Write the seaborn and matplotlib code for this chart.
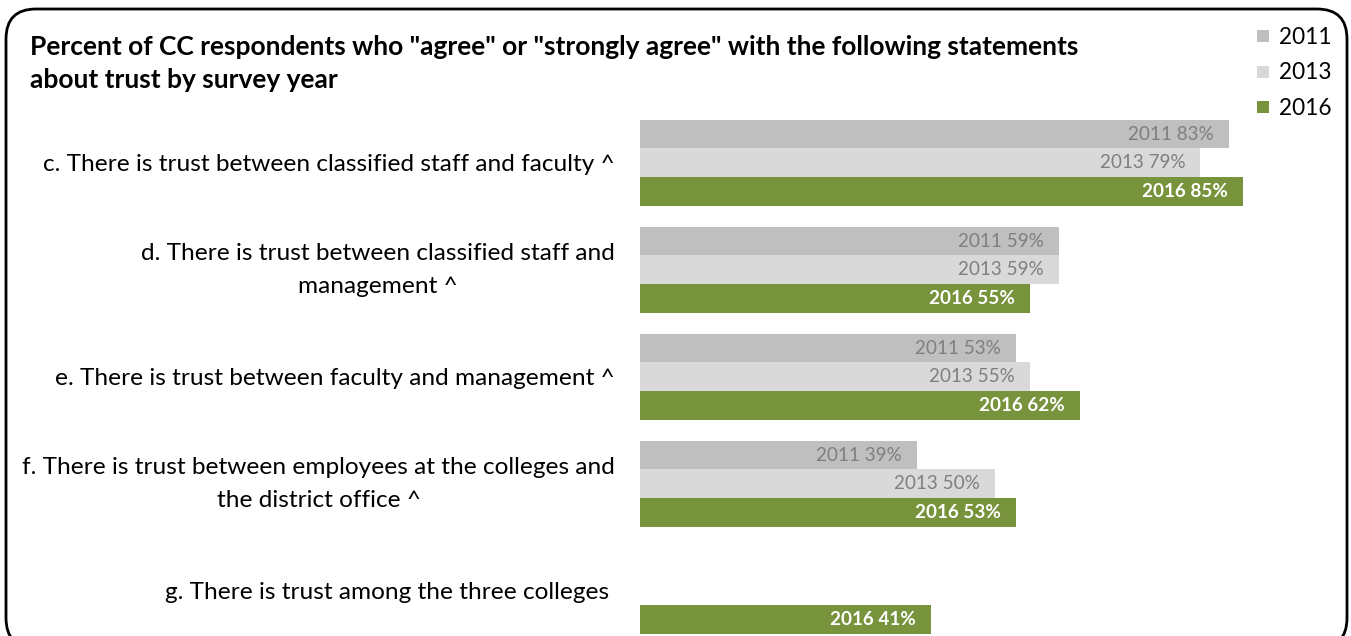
import numpy as np
import pandas as pd
import matplotlib.pyplot as plt
import seaborn as sns
from matplotlib.patches import FancyBboxPatch
from matplotlib.lines import Line2D
from matplotlib.transforms import IdentityTransform

# Survey items (labels as shown, wrapped)
items = [
    'c. There is trust between classified staff and faculty ^',
    'd. There is trust between classified staff and\nmanagement ^',
    'e. There is trust between faculty and management ^',
    'f. There is trust between employees at the colleges and\nthe district office ^',
    'g. There is trust among the three colleges ',
]
years = ['2011', '2013', '2016']
pct_2011 = [83, 59, 53, 39, np.nan]
pct_2013 = [79, 59, 55, 50, np.nan]
pct_2016 = [85, 55, 62, 53, 41]

colors = {'2011': '#bfbfbf', '2013': '#d9d9d9', '2016': '#77933c'}
font = ['Lato', 'DejaVu Sans']

rows = []
for yr, vals in zip(years, [pct_2011, pct_2013, pct_2016]):
    for item, v in zip(items, vals):
        rows.append({'item': item, 'year': yr, 'pct': v})
df = pd.DataFrame(rows)

sns.set_style('white')
plt.rcParams['font.family'] = font
plt.rcParams['text.color'] = 'black'

W, H = 1351, 636
fig = plt.figure(figsize=(W / 100, H / 100), dpi=100)
ax = fig.add_axes([640 / W, 0, 709.4 / W, (H - 109.25) / H])

sns.barplot(data=df, x='pct', y='item', hue='year', hue_order=years,
            palette=colors, orient='h', width=0.8, saturation=1,
            errorbar=None, linewidth=0, legend=False, ax=ax)

ax.set_xlim(0, 100)
ax.set_ylim(4.423, -0.5)
ax.set_xlabel('')
ax.set_ylabel('')
ax.set_xticks([])
for s in ax.spines.values():
    s.set_visible(False)
ax.tick_params(axis='y', length=0, pad=18, labelsize=17.6)
for lab in ax.get_yticklabels():
    lab.set_multialignment('center')
    lab.set_linespacing(1.7)
    lab.set_color('black')
    if '\n' in lab.get_text():
        lab.set_va('center')

# value labels inside the bar ends
for yr, cont in zip(years, ax.containers):
    for bar in cont:
        w = bar.get_width()
        if np.isnan(w):
            continue
        yc = bar.get_y() + bar.get_height() / 2
        bold = yr == '2016'
        ax.annotate(f'{yr} {w:.0f}%', (w, yc), xytext=(-15, 0),
                    textcoords='offset pixels', ha='right', va='center',
                    fontsize=13.6, fontweight='bold' if bold else 'normal',
                    color='white' if bold else '#7f7f7f')

# title
fig.text(30 / W, 1 - 63.5 / H,
         'Percent of CC respondents who "agree" or "strongly agree" with the following statements\nabout trust by survey year',
         ha='left', va='center', fontsize=19, fontweight='bold',
         linespacing=1.42, color='black')

# legend
handles = [Line2D([], [], marker='s', linestyle='none', markersize=9,
                  markerfacecolor=colors[y], markeredgewidth=0) for y in years]
fig.legend(handles, years, loc='upper left', bbox_to_anchor=(1253 / W, 1 - 27 / H),
           frameon=False, fontsize=16.3, handletextpad=0.25, labelspacing=0.64,
           handlelength=0.9, borderaxespad=0, borderpad=0, labelcolor='black')

# rounded border
fig.patches.append(FancyBboxPatch((6, -12), 1341, 639,
                                  boxstyle='round,pad=0,rounding_size=30',
                                  transform=IdentityTransform(), fill=False,
                                  edgecolor='black', linewidth=2))

fig.savefig('out.png', dpi=100)
